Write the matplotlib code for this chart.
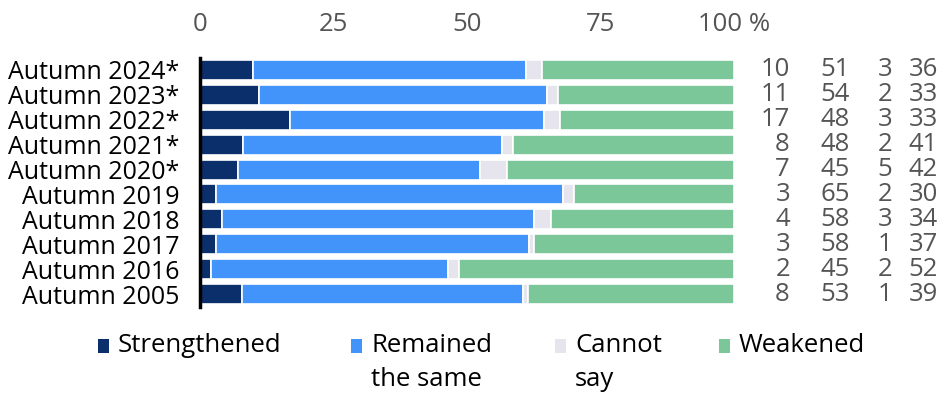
import matplotlib
matplotlib.use("Agg")
import matplotlib.pyplot as plt
from matplotlib.patches import Rectangle
from matplotlib.transforms import blended_transform_factory

plt.rcParams['font.family'] = ['Open Sans', 'DejaVu Sans']

categories = ["Autumn 2024*", "Autumn 2023*", "Autumn 2022*", "Autumn 2021*", "Autumn 2020*",
              "Autumn 2019", "Autumn 2018", "Autumn 2017", "Autumn 2016", "Autumn 2005"]
strengthened = [10, 11, 17, 8, 7, 3, 4, 3, 2, 8]
remained = [51, 54, 48, 48, 45, 65, 58, 58, 45, 53]
cannot_say = [3, 2, 3, 2, 5, 2, 3, 1, 2, 1]
weakened = [36, 33, 33, 41, 42, 30, 34, 37, 52, 39]
series_names = ["Strengthened", "Remained\nthe same", "Cannot\nsay", "Weakened"]
colors = ["#0b2f6b", "#4294fa", "#e6e4ec", "#7bc79a"]
xticks = [0, 25, 50, 75, 100]
xticklabels = ["0", "25", "50", "75", "100 %"]

FS = 18.5
W, H = 944, 394
fig = plt.figure(figsize=(W / 100, H / 100), dpi=100)
ax = fig.add_axes([200 / W, 1 - 306.5 / H, 534 / W, 249 / H])

series = [strengthened, remained, cannot_say, weakened]
totals = [sum(r) for r in zip(*series)]
ys = list(range(len(categories)))
left = [0.0] * len(categories)
for vals, col in zip(series, colors):
    widths = [v * 100.0 / t for v, t in zip(vals, totals)]
    ax.barh(ys, widths, left=left, height=0.8, color=col, edgecolor="white", linewidth=1.2)
    left = [l + w for l, w in zip(left, widths)]

ax.set_xlim(0, 100)
ax.set_ylim(len(categories) - 0.5, -0.5)
ax.set_yticks(ys)
ax.set_yticklabels(categories, fontsize=18, color="black")
ax.tick_params(axis='y', length=0, pad=15)
ax.xaxis.tick_top()
ax.set_xticks(xticks)
ax.set_xticklabels(xticklabels, fontsize=FS, color="#555555")
ax.tick_params(axis='x', length=0, pad=15)
for s in ["top", "right", "bottom"]:
    ax.spines[s].set_visible(False)
ax.spines["left"].set_linewidth(2.5)
ax.spines["left"].set_color("black")
ax.spines["left"].set_zorder(5)

# value columns
col_x = [790, 850, 892, 938]
tr = blended_transform_factory(fig.transFigure, ax.transData)
for vals, cx in zip(series, col_x):
    for y, v in zip(ys, vals):
        ax.text(cx / W, y, str(v), transform=tr, ha="right", va="center",
                fontsize=FS, color="#555555", clip_on=False)

# legend
leg_x = [98, 351, 555, 719]
for name, col, lx in zip(series_names, colors, leg_x):
    fig.patches.append(Rectangle((lx / W, 1 - 353 / H), 11 / W, 14 / H,
                                 transform=fig.transFigure, facecolor=col, edgecolor="none"))
    fig.text((lx + 20) / W, 1 - 333 / H, name, fontsize=FS, color="black",
             ha="left", va="top", linespacing=1.5)

fig.savefig("out.png", dpi=100)
